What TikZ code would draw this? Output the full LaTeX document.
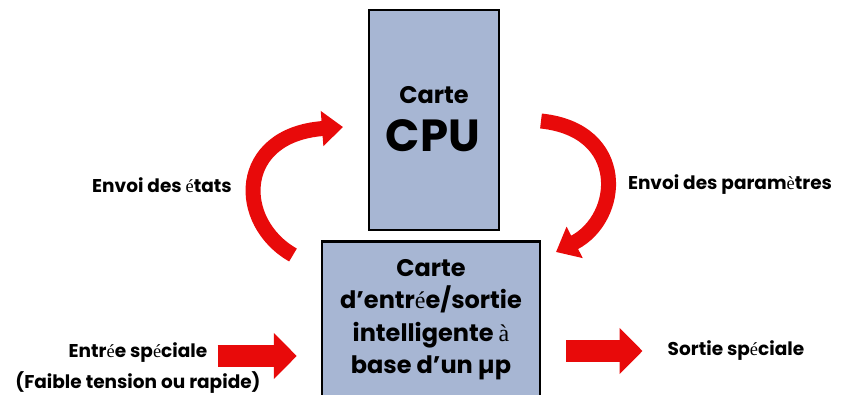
\documentclass[tikz,border=0pt]{standalone}
\usepackage{fontspec}
\setmainfont{Poppins}
\newfontfamily\serif{Liberation Serif}
\usepackage{tikz}
\usetikzlibrary{shapes,arrows.meta,positioning}
\definecolor{cardblue}{HTML}{A7B6D3}
\definecolor{arrowred}{HTML}{E80A0A}
\tikzstyle{card} = [rectangle, draw=black, line width=2.5pt, fill=cardblue]
\tikzstyle{sidetext} = [font=\bfseries\fontsize{18.5}{22}\selectfont, align=center, inner sep=0pt]
\tikzstyle{curvearrow} = [draw=arrowred, line width=15pt, -{Triangle[length=21pt,width=34pt]}]
\tikzstyle{flatarrow} = [draw=arrowred, line width=22pt, -{Triangle[length=23pt,width=45pt]}]

\begin{document}
\begin{tikzpicture}[x=1pt, y=-1pt]
    \useasboundingbox (0,0) rectangle (852,394);
    % Place nodes
    \node [card, minimum width=130pt, minimum height=220pt] (cpu) at (434,120) {};
    \node [sidetext, font=\bfseries\fontsize{24}{28}\selectfont] (carte) at (434,95) {Carte};
    \node [sidetext, font=\bfseries\fontsize{45}{50}\selectfont] (cputext) at (433,136) {CPU};
    \node [card, anchor=north, minimum width=218pt, minimum height=180pt] (io) at (431,240) {};
    \node [sidetext, anchor=north, font=\bfseries\fontsize{24}{32.5}\selectfont] (iotext) at ([yshift=-19pt]io.north)
        {Carte\\d'entr{\serif\mdseries é}e/sortie\\intelligente {\serif\mdseries à}\\base d'un µp};
    \node [sidetext] (etats) at (162,185) {Envoi des {\serif\mdseries é}tats};
    \node [sidetext] (params) at (730,185) {Envoi des param{\serif\mdseries è}tres};
    \node [sidetext] (entree) at (138,353) {Entr{\serif\mdseries é}e sp{\serif\mdseries é}ciale};
    \node [sidetext, below=8pt of entree] (faible) {(Faible tension ou rapide)};
    \node [sidetext] (sortie) at (736,351) {Sortie sp{\serif\mdseries é}ciale};
    \coordinate (ltail) at (293,255);
    \coordinate (lhead) at (343,127);
    \coordinate (rtail) at (541,121);
    \coordinate (rhead) at (556,252);
    % Draw edges
    \path [curvearrow] (ltail) .. controls (235,222) and (236,135) .. (lhead);
    \path [curvearrow] (rtail) .. controls (628,130) and (622,218) .. (rhead);
    \path [flatarrow, shorten <=10pt, shorten >=24pt] ([yshift=-3pt]entree.east) -- ([yshift=-3pt]entree.east -| io.west);
    \path [flatarrow, shorten <=25pt, shorten >=25pt] (io.east |- sortie.west) -- (sortie.west);
\end{tikzpicture}
\end{document}
